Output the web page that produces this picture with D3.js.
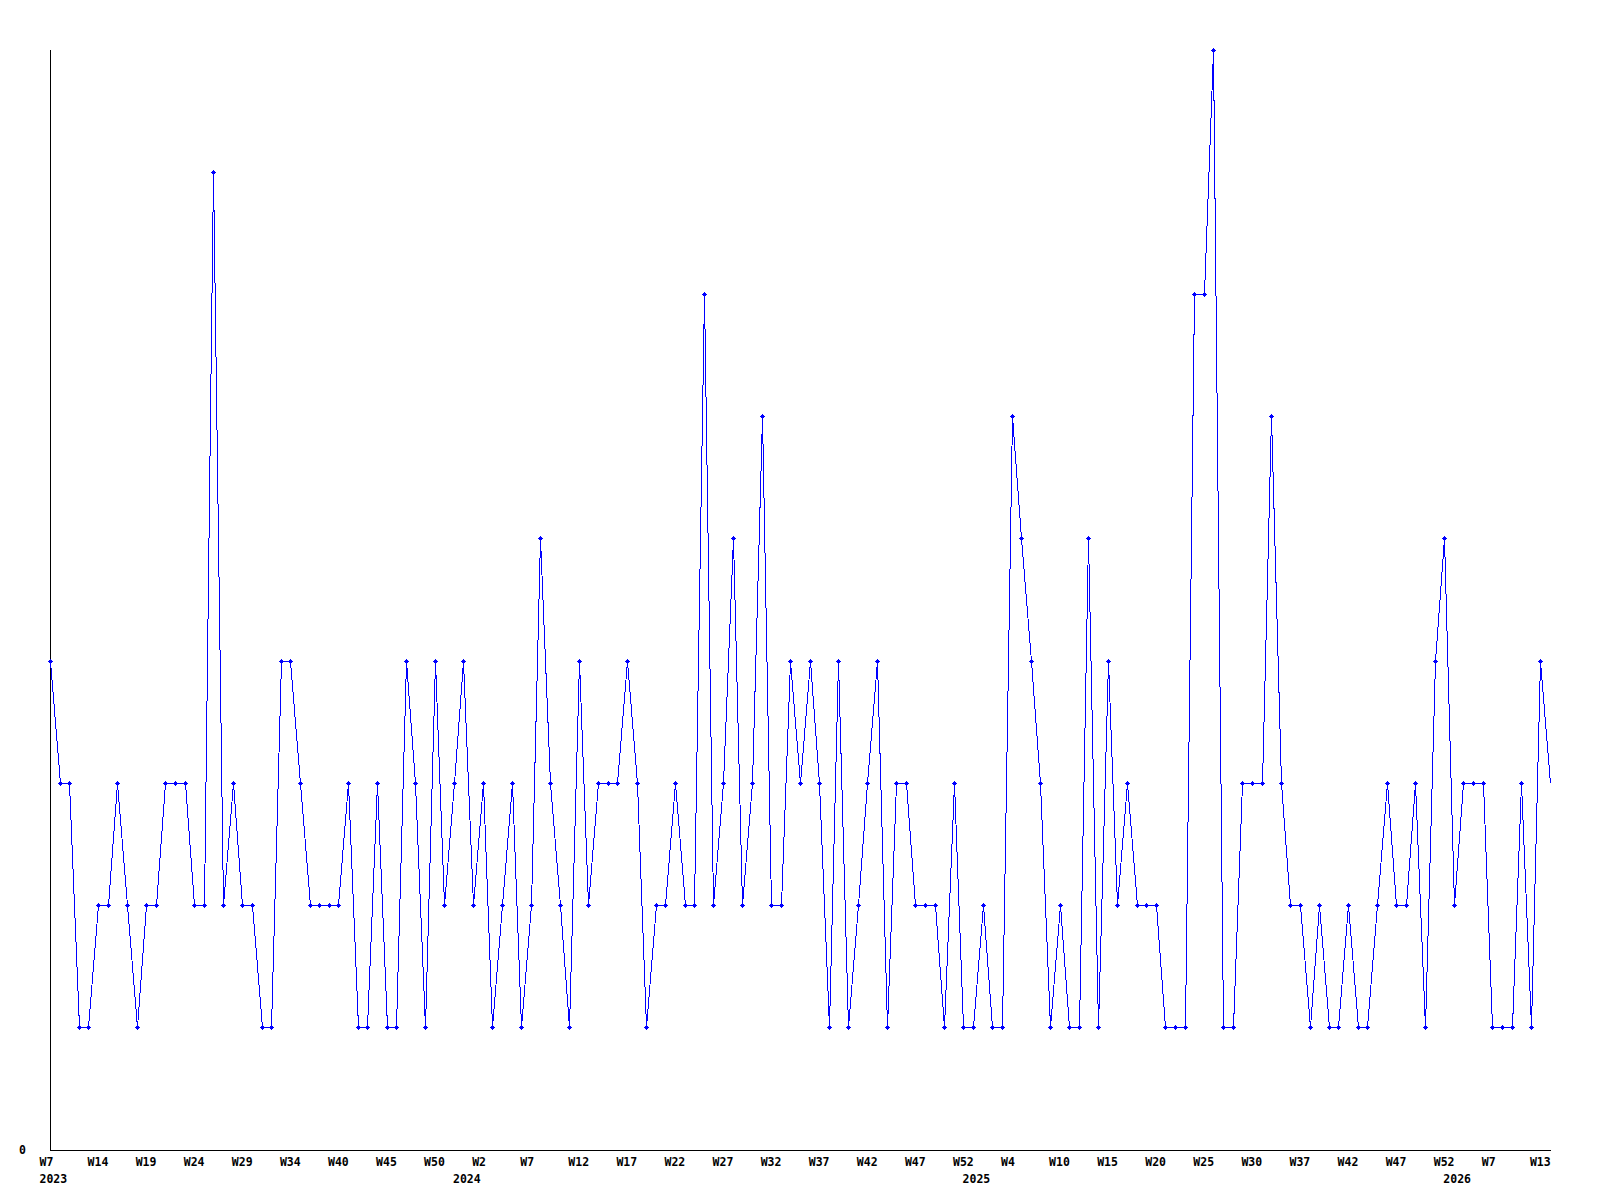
<!DOCTYPE html>
<html>
<head>
<meta charset="utf-8">
<script src="https://cdn.jsdelivr.net/npm/d3@7"></script>
<style>
  body { margin: 0; background: #fff; }
  text { font-family: "DejaVu Sans Mono", monospace; font-weight: bold; font-size: 11.5px; fill: #000; }
</style>
</head>
<body>
<svg id="chart" width="1600" height="1200"></svg>
<script>
// weekly counts, one per sample
var values = [
  4, 3, 3, 1, 1, 2, 2, 3, 2, 1,
  2, 2, 3, 3, 3, 2, 2, 8, 2, 3,
  2, 2, 1, 1, 4, 4, 3, 2, 2, 2,
  2, 3, 1, 1, 3, 1, 1, 4, 3, 1,
  4, 2, 3, 4, 2, 3, 1, 2, 3, 1,
  2, 5, 3, 2, 1, 4, 2, 3, 3, 3,
  4, 3, 1, 2, 2, 3, 2, 2, 7, 2,
  3, 5, 2, 3, 6, 2, 2, 4, 3, 4,
  3, 1, 4, 1, 2, 3, 4, 1, 3, 3,
  2, 2, 2, 1, 3, 1, 1, 2, 1, 1,
  6, 5, 4, 3, 1, 2, 1, 1, 5, 1,
  4, 2, 3, 2, 2, 2, 1, 1, 1, 7,
  7, 9, 1, 1, 3, 3, 3, 6, 3, 2,
  2, 1, 2, 1, 1, 2, 1, 1, 2, 3,
  2, 2, 3, 1, 4, 5, 2, 3, 3, 3,
  1, 1, 1, 3, 1, 4, 3
];

// a label every 5th sample
var weekLabels = ["W7", "W14", "W19", "W24", "W29", "W34", "W40", "W45", "W50", "W2",
  "W7", "W12", "W17", "W22", "W27", "W32", "W37", "W42", "W47", "W52",
  "W4", "W10", "W15", "W20", "W25", "W30", "W37", "W42", "W47", "W52",
  "W7", "W13"];

// first sample of each year
var yearIndex = [0, 43, 96, 146];
var yearLabels = ["2023", "2024", "2025", "2026"];

// note: "top" is taken by window.top, so plotTop etc
var svg = d3.select("#chart"),
    plotLeft = 50, plotRight = 1550, plotTop = 50, plotBottom = 1149,

    x = d3.scaleLinear().domain([0, values.length - 1]).range([plotLeft, plotRight]),
    y = d3.scaleLinear().domain([0, 9]).range([plotBottom, plotTop]);

// snap to pixel centres so the 1px lines stay sharp
function px(v) { return Math.round(v) + 0.5; }

// axes - only the lines and a single 0
svg.append("line")
    .attr("x1", plotLeft + 0.5).attr("x2", plotLeft + 0.5)
    .attr("y1", plotBottom + 2).attr("y2", plotTop)
    .attr("stroke", "#000").attr("shape-rendering", "crispEdges");
svg.append("line")
    .attr("x1", plotLeft).attr("x2", plotRight + 1)
    .attr("y1", plotBottom + 1.5).attr("y2", plotBottom + 1.5)
    .attr("stroke", "#000").attr("shape-rendering", "crispEdges");

svg.append("text")
    .attr("x", 19).attr("y", plotBottom + 5)
    .text("0");

// week labels under the axis
svg.append("g").selectAll("text")
    .data(weekLabels)
    .enter().append("text")
    .attr("x", function(d, i) { return x(i * 5) - 10.5; })
    .attr("y", 1166)
    .text(function(d) { return d; });

svg.append("g").selectAll("text")
    .data(yearLabels)
    .enter().append("text")
    .attr("x", function(d, i) { return x(yearIndex[i]) - 10.5; })
    .attr("y", 1183)
    .text(function(d) { return d; });

// the line
var line = d3.line()
    .x(function(d, i) { return px(x(i)); })
    .y(function(d) { return px(y(d)); });

svg.append("path")
    .datum(values)
    .attr("d", line)
    .attr("fill", "none")
    .attr("stroke", "#0000ff")
    .attr("stroke-width", 1)
    .attr("shape-rendering", "crispEdges");

// little plus markers, 5px across with a 3px centre
// (last one is not drawn in the original)
svg.append("g").selectAll("path")
    .data(values.slice(0, values.length - 1))
    .enter().append("path")
    .attr("transform", function(d, i) { return "translate(" + px(x(i)) + "," + px(y(d)) + ")"; })
    .attr("d", "M-0.5,-2.5h1v1h1v1h1v1h-1v1h-1v1h-1v-1h-1v-1h-1v-1h1v-1h1z")
    .attr("fill", "#0000ff")
    .attr("shape-rendering", "crispEdges");
</script>
</body>
</html>
